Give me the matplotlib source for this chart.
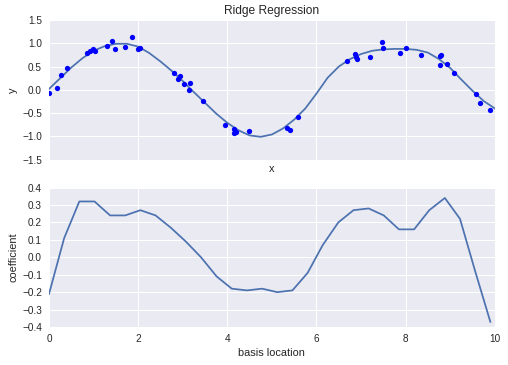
import matplotlib
matplotlib.use('Agg')
import matplotlib.pyplot as plt

plt.rcParams.update({
    'font.family': ['Liberation Sans', 'DejaVu Sans'],
    'axes.facecolor': '#EAEAF2',
    'axes.edgecolor': 'white',
    'axes.grid': True,
    'grid.color': 'white',
    'grid.linewidth': 1.0,
    'axes.axisbelow': True,
    'xtick.color': '#262626',
    'ytick.color': '#262626',
    'axes.labelcolor': '#262626',
    'text.color': '#262626',
    'xtick.major.size': 0,
    'ytick.major.size': 0,
    'xtick.major.pad': 7,
    'ytick.major.pad': 7,
    'xtick.labelsize': 10,
    'ytick.labelsize': 10,
    'axes.labelsize': 11,
    'axes.titlesize': 12,
})

# noisy samples
x_pts = [0.00, 0.18, 0.26, 0.40, 0.86, 0.92, 0.98, 1.03, 1.30, 1.41,
         1.48, 1.70, 1.86, 1.99, 2.04, 2.80, 2.89, 2.94, 3.02, 3.16,
         3.13, 3.46, 3.95, 4.16, 4.14, 4.19, 4.48, 5.33, 5.40, 5.58,
         6.69, 6.86, 6.89, 6.92, 7.21, 7.47, 7.50, 7.88, 8.01, 8.35,
         8.76, 8.79, 8.77, 8.93, 9.09, 9.58, 9.67, 9.89]
y_pts = [-0.06, 0.04, 0.31, 0.47, 0.79, 0.84, 0.88, 0.84, 0.94, 1.04,
         0.88, 0.92, 1.14, 0.88, 0.91, 0.36, 0.24, 0.29, 0.13, 0.15,
         0.00, -0.24, -0.75, -0.84, -0.92, -0.91, -0.88, -0.81, -0.86, -0.58,
         0.62, 0.77, 0.70, 0.66, 0.71, 1.03, 0.90, 0.79, 0.89, 0.75,
         0.72, 0.74, 0.54, 0.56, 0.36, -0.10, -0.28, -0.43]

# fitted ridge curve (read every 0.25)
x_fit = [0.00, 0.25, 0.50, 0.75, 1.00, 1.25, 1.50, 1.75, 2.00, 2.25,
         2.50, 2.75, 3.00, 3.25, 3.50, 3.75, 4.00, 4.25, 4.50, 4.75,
         5.00, 5.25, 5.50, 5.75, 6.00, 6.25, 6.50, 6.75, 7.00, 7.25,
         7.50, 7.75, 8.00, 8.25, 8.50, 8.75, 9.00, 9.25, 9.50, 9.75, 10.00]
y_fit = [0.02, 0.25, 0.48, 0.68, 0.84, 0.94, 0.99, 0.99, 0.93, 0.79,
         0.61, 0.41, 0.19, -0.05, -0.28, -0.51, -0.71, -0.87, -0.98, -1.01,
         -0.96, -0.83, -0.64, -0.40, -0.08, 0.26, 0.50, 0.66, 0.77, 0.84,
         0.87, 0.88, 0.88, 0.86, 0.80, 0.66, 0.47, 0.22, -0.02, -0.24, -0.40]

# basis centres and ridge coefficients (bottom panel)
centers = [0.00, 0.34, 0.68, 1.02, 1.37, 1.71, 2.05, 2.39, 2.73, 3.07,
           3.41, 3.76, 4.10, 4.44, 4.78, 5.12, 5.46, 5.80, 6.14, 6.49,
           6.83, 7.17, 7.51, 7.85, 8.19, 8.53, 8.88, 9.22, 9.56, 9.90]
coefs = [-0.21, 0.11, 0.32, 0.32, 0.24, 0.24, 0.27, 0.24, 0.17, 0.09,
         0.00, -0.11, -0.18, -0.19, -0.18, -0.20, -0.19, -0.09, 0.07, 0.20,
         0.27, 0.28, 0.24, 0.16, 0.16, 0.27, 0.34, 0.22, -0.08, -0.37]

y_ticks_top = [-1.5, -1.0, -0.5, 0.0, 0.5, 1.0, 1.5]
y_ticks_bottom = [-0.4, -0.3, -0.2, -0.1, 0.0, 0.1, 0.2, 0.3, 0.4]
x_ticks = [0, 2, 4, 6, 8, 10]

fig, ax = plt.subplots(2, sharex=True, figsize=(508 / 72, 365 / 72), dpi=72)
fig.subplots_adjust(left=0.0965, right=0.974, top=0.945, bottom=0.104, hspace=0.2)

ax[0].scatter(x_pts, y_pts, color='blue', s=28, linewidths=0, zorder=3)
ax[0].plot(x_fit, y_fit, color='#4C72B0', linewidth=1.75)
ax[0].set(xlabel='x', ylabel='y', ylim=(-1.5, 1.5), title='Ridge Regression')
ax[0].set_yticks(y_ticks_top)
ax[0].tick_params(labelbottom=False)

ax[1].plot(centers, coefs, color='#4C72B0', linewidth=1.75)
ax[1].set(xlabel='basis location', ylabel='coefficient', xlim=(0, 10), ylim=(-0.4, 0.4))
ax[1].set_yticks(y_ticks_bottom)
ax[1].set_xticks(x_ticks)

for a in ax:
    for s in a.spines.values():
        s.set_visible(False)

fig.savefig('out.png', dpi=72)
